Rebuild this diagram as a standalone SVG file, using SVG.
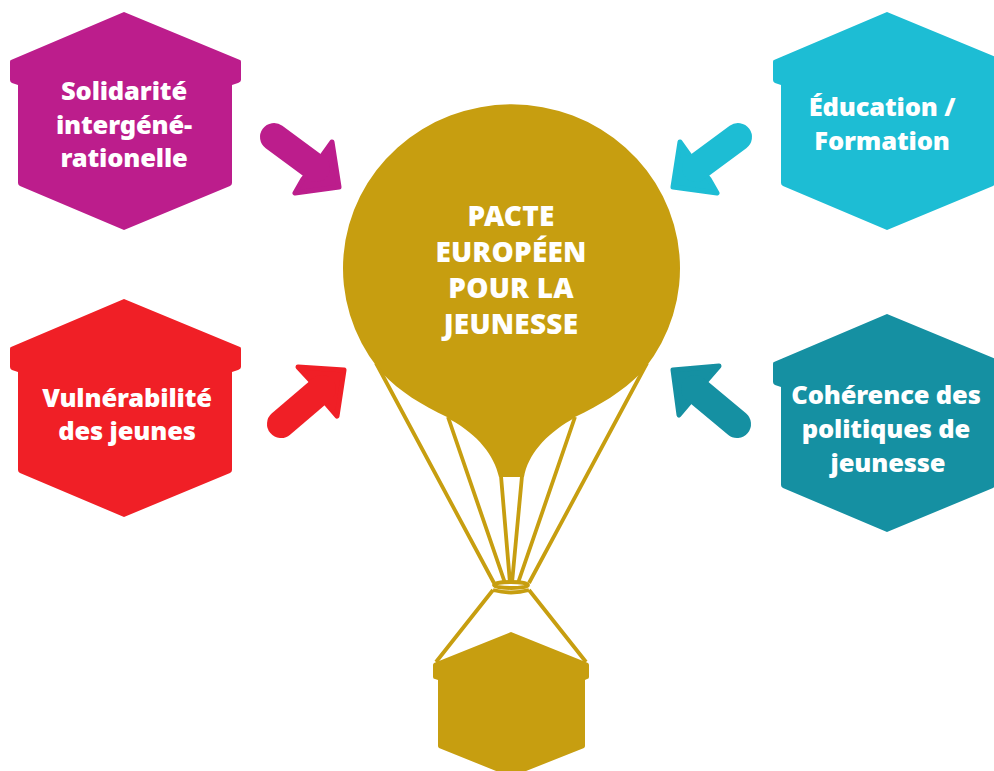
<svg xmlns="http://www.w3.org/2000/svg" width="994" height="771" viewBox="0 0 994 771">
<style>
.t{font-family:"Noto Sans","Open Sans","Liberation Sans",sans-serif;font-weight:900;font-size:25.5px;fill:#fff;text-anchor:middle;letter-spacing:-.15px}
.r{fill:none;stroke:#c79e10;stroke-width:3.8}
.a{stroke-linejoin:round;stroke-width:5}
.s{fill:none;stroke-width:28;stroke-linecap:round}
.p{font-size:28px;letter-spacing:.2px}
</style>
<defs>
<path id="house" d="M124 12L240 60Q241 60 241 62V80Q241 82 238 83L232 85V183Q232 185 230 186L124 230L20 186Q18 185 18 183V85L12 83Q10 82 10 80V62Q10 60 11 60Z"/>
</defs>
<rect width="994" height="771" fill="#fff"/>
<g id="connectors">
<g fill="#bc1d8c" stroke="#bc1d8c"><path class="a" d="M339 187L332 142L322 156L303 179L295 193Z"/><path class="s" d="M274 137L316 168"/></g>
<g fill="#1dbdd4" stroke="#1dbdd4"><path class="a" d="M673 187L680 142L690 156L709 179L717 193Z"/><path class="s" d="M738 137L696 168"/></g>
<g fill="#f01f26" stroke="#f01f26"><path class="a" d="M344 370L298 367L311 381L325 402L337 416Z"/><path class="s" d="M281 424L322 389"/></g>
<g fill="#1590a2" stroke="#1590a2"><path class="a" d="M673 370L719 366L706 381L690 402L679 415Z"/><path class="s" d="M737 424L695 389"/></g>
</g>
<g id="balloon">
<path fill="#c79e10" d="M378.500 369A168.500 164 0 1 1 644.500 369L641 373C622 392 600 405 575 417L571 420C545 435 528 455 524 477H499C494 455 478 435 451 420L447 417C422 405 400 392 382 373Z"/>
<path class="r" d="M376 363L494 583M448 417L505 583M501 476L510 583M522 476L512 583M575 417L518 583M647 363L529 583"/>
<ellipse class="r" cx="511" cy="585" rx="17" ry="3" stroke-width="2.5"/>
<path class="r" d="M493 590Q511 595 529 590M493 590L436 662M529 590L586 662"/>
<path fill="#c79e10" d="M511 632L588 663Q589 664 589 665V677Q589 679 587 679L585 680V746Q585 747 584 748L511 777L439 748Q438 747 438 746V680L435 679Q433 679 433 677V665Q433 664 434 663Z"/>
<g><text class="t p" x="511" y="226">PACTE</text><text class="t p" x="511" y="262">EUROPÉEN</text><text class="t p" x="511" y="298">POUR LA</text><text class="t p" x="511" y="334">JEUNESSE</text></g>
</g>
<g id="solidarite"><use href="#house" fill="#bc1d8c"/><text class="t" x="124" y="100">Solidarité</text><text class="t" x="124" y="134">intergéné-</text><text class="t" x="124" y="167">rationelle</text></g>
<g id="education"><use href="#house" x="763" fill="#1dbdd4"/><text class="t" x="882" y="116">Éducation /</text><text class="t" x="882" y="150">Formation</text></g>
<g id="vulnerabilite"><use href="#house" y="287" fill="#f01f26"/><text class="t" x="127" y="407">Vulnérabilité</text><text class="t" x="127" y="440">des jeunes</text></g>
<g id="coherence"><use href="#house" x="763" y="302" fill="#1590a2"/><text class="t" x="886" y="404">Cohérence des</text><text class="t" x="886" y="438">politiques de</text><text class="t" x="888" y="472">jeunesse</text></g>
</svg>
